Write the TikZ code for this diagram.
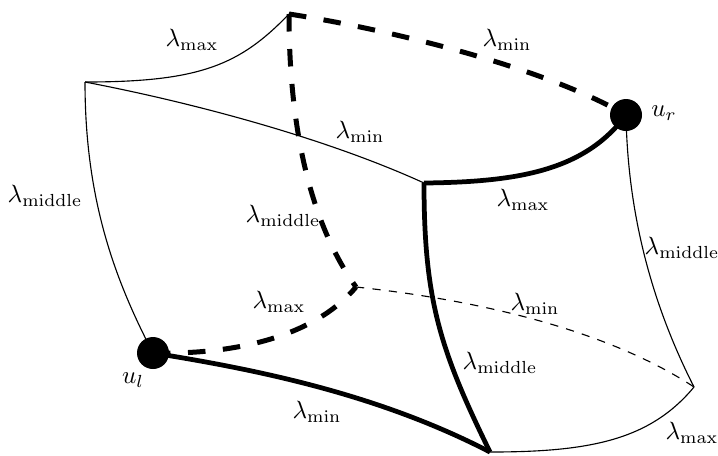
\documentclass[tikz,border=0pt]{standalone}
\begin{document}
\begin{tikzpicture}[x=0.4pt,y=-0.4pt,
  thinedge/.style={line width=0.45pt},
  thickedge/.style={line width=1.9pt},
  thickdash/.style={line width=2pt,dash pattern=on 7pt off 7pt},
  thindash/.style={line width=0.45pt,dash pattern=on 3.3pt off 3.3pt},
  dot/.style={circle,fill=black,inner sep=0pt,minimum size=12.8pt},
  lab/.style={inner sep=0pt}]
\useasboundingbox (0,0) rectangle (718,455);
\coordinate (A) at (85,82);
\coordinate (B) at (289,14);
\coordinate (C) at (424,183);
\coordinate (D) at (356,287);
\coordinate (E) at (490,452);
\coordinate (F) at (694,387);
% thin edges
\draw[thinedge] (A) .. controls (200,82) and (240,65) .. (B);
\draw[thinedge] (A) .. controls (200,104) and (330,140) .. (C);
\draw[thinedge] (A) .. controls (85,200) and (115,280) .. (153,353);
\draw[thinedge] (626,115) .. controls (628,230) and (660,320) .. (F);
\draw[thinedge] (E) .. controls (590,452) and (650,440) .. (F);
\draw[thindash] (D) .. controls (460,298) and (600,325) .. (F);
% thick dashed
\draw[thickdash] (B) .. controls (380,28) and (540,65) .. (626,115);
\draw[thickdash] (B) .. controls (289,140) and (315,230) .. (D);
\draw[thickdash] (153,353) .. controls (250,355) and (320,330) .. (D);
% thick solid
\draw[thickedge] (C) .. controls (520,182) and (585,170) .. (626,115);
\draw[thickedge] (C) .. controls (424,300) and (440,350) .. (E);
\draw[thickedge] (153,353) .. controls (260,370) and (380,395) .. (E);
% dots
\node[dot] (ur) at (626,115) {};
\node[dot] (ul) at (153,353) {};
\node[lab] (urlab) at (664,113) {$u_r$};
\node[lab] (ullab) at (133,380) {$u_l$};
% labels
\node[lab] (l1) at (192,40) {$\lambda_{\max}$};
\node[lab] (l2) at (507,40) {$\lambda_{\min}$};
\node[lab] (l3) at (360,132) {$\lambda_{\min}$};
\node[lab] (l4) at (45,196) {$\lambda_{\mathrm{middle}}$};
\node[lab] (l5) at (283,216) {$\lambda_{\mathrm{middle}}$};
\node[lab] (l6) at (523,200) {$\lambda_{\max}$};
\node[lab] (l7) at (682,248) {$\lambda_{\mathrm{middle}}$};
\node[lab] (l8) at (535,304) {$\lambda_{\min}$};
\node[lab] (l9) at (279,302) {$\lambda_{\max}$};
\node[lab] (l10) at (500,363) {$\lambda_{\mathrm{middle}}$};
\node[lab] (l11) at (317,412) {$\lambda_{\min}$};
\node[lab] (l12) at (692,433) {$\lambda_{\max}$};
\end{tikzpicture}
\end{document}
